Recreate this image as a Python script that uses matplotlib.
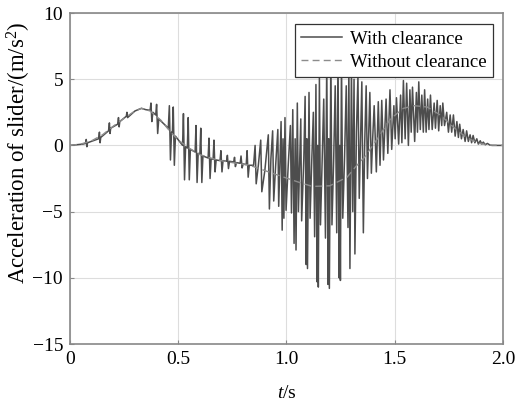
import matplotlib
matplotlib.use("Agg")
import matplotlib.pyplot as plt

# smooth response without clearance
t_smooth = [0, 0.05, 0.1, 0.15, 0.2, 0.25, 0.3, 0.33, 0.37, 0.42, 0.46, 0.5,
            0.55, 0.6, 0.68, 0.75, 0.83, 0.9, 0.97, 1.06, 1.12, 1.2, 1.28,
            1.32, 1.36, 1.42, 1.48, 1.54, 1.59, 1.65, 1.71, 1.77, 1.83, 1.89,
            1.94, 2.0]
a_smooth = [0, 0.1, 0.35, 0.8, 1.45, 2.05, 2.6, 2.8, 2.6, 1.9, 1.1, 0.4,
            -0.2, -0.7, -1.1, -1.3, -1.5, -1.9, -2.3, -2.8, -3.1, -3.05, -2.4,
            -1.6, -0.9, 0.5, 2.0, 2.8, 3.0, 2.9, 2.3, 1.4, 0.6, 0.15,
            0.02, 0]

# response with clearance, spike vertices
# rising part, small wiggles
t_rise = [0, 0.06, 0.072, 0.075, 0.078, 0.081, 0.132, 0.136, 0.139, 0.142,
          0.178, 0.182, 0.185, 0.188, 0.22, 0.224, 0.227, 0.230, 0.26, 0.263,
          0.266, 0.30, 0.33, 0.35]
a_rise = [0, 0.1, 0.15, 0.45, -0.1, 0.2, 0.5, 1.0, 0.2, 0.6,
          1.1, 1.7, 0.9, 1.3, 1.6, 2.1, 1.4, 1.8, 2.2, 2.5,
          2.1, 2.6, 2.8, 2.7]
# narrow impact spikes 0.37 - 0.85 s
t_imp = [0.370, 0.374, 0.378, 0.383, 0.396, 0.400, 0.405, 0.410,
         0.454, 0.459, 0.464, 0.469, 0.473, 0.477, 0.482, 0.487,
         0.520, 0.524, 0.529, 0.534, 0.542, 0.546, 0.551, 0.556,
         0.578, 0.582, 0.587, 0.592, 0.600, 0.604, 0.609, 0.614,
         0.638, 0.642, 0.647, 0.652, 0.661, 0.665, 0.670, 0.675,
         0.693, 0.697, 0.702, 0.707, 0.723, 0.727, 0.732, 0.737,
         0.756, 0.760, 0.764, 0.769, 0.786, 0.790, 0.795, 0.800,
         0.814, 0.818, 0.823, 0.828]
a_imp = [2.65, 3.2, 1.8, 2.5, 2.3, 3.1, 0.9, 2.0,
         1.3, 3.0, -1.1, 1.0, 0.95, 2.9, -1.5, 0.7,
         0.0, 2.4, -2.6, -0.1, -0.2, 2.1, -2.6, -0.3,
         -0.5, 1.5, -2.8, -0.6, -0.65, 1.3, -2.8, -0.8,
         -0.95, 0.55, -2.5, -1.0, -1.05, 0.4, -2.0, -1.1,
         -1.15, -0.4, -2.0, -1.15, -1.2, -0.75, -1.75, -1.2,
         -1.25, -0.9, -1.6, -1.3, -1.35, -0.8, -1.7, -1.4,
         -1.45, -0.4, -2.4, -1.5]
# strong oscillation 0.85 - 1.40 s
t_osc = [0.848, 0.855, 0.860, 0.870, 0.881, 0.886, 0.900, 0.916, 0.921, 0.928,
         0.936, 0.941, 0.950, 0.960, 0.964, 0.970, 0.975, 0.980, 0.984, 0.988,
         0.993, 0.998, 1.008, 1.018, 1.023, 1.029, 1.035, 1.040, 1.044, 1.050,
         1.055, 1.061, 1.066, 1.070, 1.080, 1.086, 1.091, 1.094, 1.097, 1.104,
         1.109, 1.117, 1.124, 1.130, 1.136, 1.141, 1.144, 1.147, 1.152, 1.157,
         1.165, 1.172, 1.180, 1.186, 1.192, 1.195, 1.198, 1.205, 1.210, 1.218,
         1.225, 1.232, 1.238, 1.243, 1.246, 1.249, 1.254, 1.260, 1.268, 1.276,
         1.284, 1.288, 1.293, 1.300, 1.306, 1.312, 1.316, 1.323, 1.330, 1.336,
         1.342, 1.348, 1.355, 1.361, 1.368, 1.374, 1.380, 1.385, 1.392, 1.398]
a_osc = [-1.5, 0.0, -2.9, -1.5, 0.4, -3.5, -1.9, 0.8, -4.8, -1.0,
         1.1, -4.2, -1.5, 1.2, -4.6, -1.0, 1.8, -6.4, 0.5, -5.5,
         2.1, -4.9, -1.5, 1.5, -5.1, 2.7, -7.4, 0.5, -7.9, 3.2,
         -5.0, -1.0, 2.0, -5.7, -1.0, 3.7, -9.0, 0.5, -9.3, 4.0,
         -5.5, -1.0, 2.5, -6.9, 4.6, -10.3, 0.0, -10.7, 5.1, -6.0,
         -1.0, 3.5, -7.0, 6.5, -10.5, 0.5, -10.8, 7.0, -6.0, -1.0,
         4.5, -6.6, 7.0, -10.0, 0.0, -10.2, 6.5, -5.5, -1.0, 4.5,
         -6.2, 6.0, -9.3, 5.8, -5.0, 5.0, -8.2, 1.0, 5.2, -4.0,
         0.5, 4.8, -6.6, 0.0, 4.5, -2.5, 1.0, 4.0, -2.1, 0.5]
# decaying rebounds 1.40 - 2.0 s
t_dec = [1.405, 1.415, 1.424, 1.432, 1.440, 1.448, 1.460, 1.468, 1.478, 1.486,
         1.496, 1.502, 1.508, 1.518, 1.527, 1.533, 1.540, 1.548, 1.555, 1.563,
         1.570, 1.576, 1.582, 1.592, 1.600, 1.605, 1.611, 1.618, 1.625, 1.632,
         1.638, 1.645, 1.652, 1.658, 1.665, 1.673, 1.682, 1.688, 1.696, 1.703,
         1.710, 1.717, 1.722, 1.730, 1.740, 1.748, 1.756, 1.763, 1.771, 1.779,
         1.787, 1.794, 1.800, 1.808, 1.816, 1.825, 1.832, 1.840, 1.848, 1.855,
         1.862, 1.870, 1.879, 1.886, 1.895, 1.902, 1.909, 1.918, 1.928, 1.940,
         1.950, 2.0]
a_dec = [3.0, -2.0, 3.3, -1.5, 3.4, -1.1, 3.5, -0.6, 4.2, -0.3,
         3.0, 0.5, 3.6, 0.1, 3.8, 0.2, 4.9, 0.5, 4.7, 0.0,
         4.2, 1.0, 4.4, 0.3, 4.0, 1.0, 4.8, 1.2, 3.8, 1.0,
         4.2, 1.0, 3.5, 1.2, 3.8, 1.2, 3.2, 1.3, 3.4, 1.1,
         3.0, 1.5, 3.2, 1.5, 2.5, 1.0, 2.3, 1.0, 2.3, 0.7,
         1.8, 0.6, 1.6, 0.5, 1.2, 0.3, 1.1, 0.3, 0.8, 0.2,
         0.75, 0.2, 0.5, 0.1, 0.35, 0.1, 0.25, 0.05, 0.15, 0.02,
         0.0, 0.0]

t_clear = t_rise + t_imp + t_osc + t_dec
a_clear = a_rise + a_imp + a_osc + a_dec

x_ticks = [0, 0.5, 1.0, 1.5, 2.0]
x_labels = ['0', '0.5', '1.0', '1.5', '2.0']
y_ticks = [-15, -10, -5, 0, 5, 10]

plt.rcParams['font.family'] = ['Liberation Serif', 'DejaVu Serif']
plt.rcParams['mathtext.fontset'] = 'custom'
plt.rcParams['mathtext.rm'] = 'Liberation Serif'
plt.rcParams['mathtext.it'] = 'Liberation Serif:italic'

fig = plt.figure(figsize=(5.2, 4.04), dpi=100)
ax = fig.add_axes([0.1346, 0.1485, 0.8327, 0.8193])

ax.plot(t_clear, a_clear, color='#4d4d4d', lw=1.1, label='With clearance', zorder=2)
ax.plot(t_smooth, a_smooth, color='#8c8c8c', lw=1.0, ls=(0, (5, 3)),
        label='Without clearance', zorder=3)

ax.set_xlim(0, 2.0)
ax.set_ylim(-15, 10)
ax.set_xticks(x_ticks)
ax.set_xticklabels(x_labels)
ax.set_yticks(y_ticks)
ax.grid(True, color='#dddddd', lw=0.8)
ax.set_axisbelow(True)
ax.tick_params(direction='in', length=3, labelsize=14, color='#888888', pad=5)
for s in ax.spines.values():
    s.set_color('#888888')
    s.set_linewidth(1.2)

ax.set_xlabel('$\\it{t}$/s', fontsize=14, labelpad=12)
ax.set_ylabel('Acceleration of slider/(m/s$^{2}$)', fontsize=16.5)
ax.yaxis.set_label_coords(-0.085, 0.578)

leg = ax.legend(loc='upper right', bbox_to_anchor=(0.977, 0.966), fontsize=13.5,
                fancybox=False, edgecolor='#333333', framealpha=1,
                handlelength=2.2, borderpad=0.35, labelspacing=0.3,
                handletextpad=0.4, borderaxespad=0)
leg.get_frame().set_linewidth(0.9)
leg.set_zorder(5)

fig.savefig('out.png', dpi=100)
